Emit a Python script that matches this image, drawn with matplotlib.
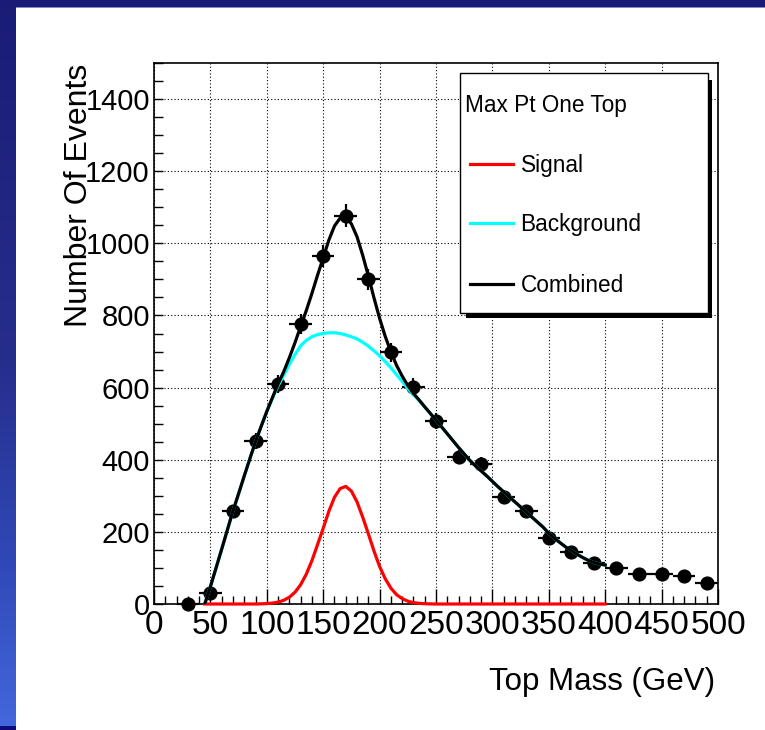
import numpy as np
import matplotlib
matplotlib.use('Agg')
import matplotlib.pyplot as plt
from matplotlib.patches import Rectangle
from matplotlib.ticker import MultipleLocator

plt.rcParams['font.family'] = ['Liberation Sans', 'DejaVu Sans']

# histogram (bin centres, counts, errors)
mass = [30, 50, 70, 90, 110, 130, 150, 170, 190, 210, 230, 250,
        270, 290, 310, 330, 350, 370, 390, 410, 430, 450, 470, 490]
counts = [0, 30, 258, 452, 611, 776, 964, 1077, 900, 698, 602, 507,
          408, 388, 298, 257, 182, 143, 114, 100, 84, 83, 78, 58]
errs = [0, 5.5, 16.1, 21.3, 24.7, 27.9, 31.0, 32.8, 30.0, 26.4, 24.5, 22.5,
        20.2, 19.7, 17.3, 16.0, 13.5, 12.0, 10.7, 10.0, 9.2, 9.1, 8.8, 7.6]
bin_half = 10

# fit curves, every 5 GeV from 45 to 400
fit_mass = list(range(45, 401, 5))
background = [0, 48, 100, 152, 205, 258, 306, 355, 403, 450, 492, 533,
              570, 605, 634, 664, 692, 716, 731, 741, 747, 750, 752, 752,
              750, 746, 741, 735, 726, 715, 702, 688, 672, 655, 636, 617,
              598, 580, 564, 546, 528, 510, 491, 472, 453, 434, 416, 398,
              383, 369, 355, 340, 325, 311, 297, 283, 269, 255, 241, 227,
              213, 196, 182, 170, 158, 148, 138, 129, 121, 115, 111, 108]
signal = [0, 0, 0, 0, 0, 0, 0, 0, 0, 0, 0.5, 1.1,
          2.5, 5.2, 10.2, 18.8, 32.7, 53.5, 82.6, 120.2, 164.8, 210, 257, 296,
          320, 326, 313, 283, 241, 195, 147, 104, 70, 44, 26, 15,
          7.8, 3.9, 1.8, 0.8, 0.3, 0, 0, 0, 0, 0, 0, 0,
          0, 0, 0, 0, 0, 0, 0, 0, 0, 0, 0, 0,
          0, 0, 0, 0, 0, 0, 0, 0, 0, 0, 0, 0]
combined = [b + s for b, s in zip(background, signal)]

legend_title = 'Max Pt One Top'
legend_labels = ['Signal', 'Background', 'Combined']
legend_colors = ['#ff0000', '#00ffff', '#000000']

W, H = 765, 730
fig = plt.figure(figsize=(W / 100, H / 100), dpi=100, facecolor='white')

# blue frame on the left / top
bg = fig.add_axes([0, 0, 1, 1], zorder=-10)
bg.axis('off')
stops_y = [0, 360, 560, 730]
stops_c = np.array([[26, 28, 118], [38, 46, 140], [48, 72, 182], [68, 104, 222]]) / 255
yy = np.arange(H)
grad = np.stack([np.interp(yy, stops_y, stops_c[:, k]) for k in range(3)], axis=-1)
bg.imshow(grad[:, None, :], extent=[0, 16, H, 0], aspect='auto')
bg.add_patch(Rectangle((0, 0), W, 7, color='#1a1b76', lw=0))
bg.add_patch(Rectangle((16, 7), W, 1, color='#8a8ac8', lw=0))
bg.add_patch(Rectangle((0, 726), 16, 4, color='#0b0b7c', lw=0))
bg.set_xlim(0, W)
bg.set_ylim(H, 0)

ax = fig.add_axes([154 / W, (H - 604) / H, 564 / W, 541 / H])
ax.set_xlim(0, 500)
ax.set_ylim(0, 1500)

ax.errorbar(mass, counts, xerr=bin_half, yerr=errs, fmt='o', color='black',
            ms=9.2, elinewidth=1.6, capsize=0, clip_on=False, zorder=3)
ax.plot(fit_mass, signal, color=legend_colors[0], lw=2.3, clip_on=False, zorder=4)
ax.plot(fit_mass, background, color=legend_colors[1], lw=2.3, zorder=4)
ax.plot(fit_mass, combined, color=legend_colors[2], lw=2.3, zorder=5)

ax.xaxis.set_major_locator(MultipleLocator(50))
ax.xaxis.set_minor_locator(MultipleLocator(10))
ax.yaxis.set_major_locator(MultipleLocator(200))
ax.yaxis.set_minor_locator(MultipleLocator(50))
ax.tick_params(axis='x', which='major', direction='in', length=10.8, width=1,
               labelsize=24, pad=4.3, top=False)
ax.tick_params(axis='x', which='minor', direction='in', length=5.8, width=1, top=False)
ax.tick_params(axis='y', which='major', direction='in', length=6.5, width=1,
               labelsize=21, pad=3, right=False)
ax.tick_params(axis='y', which='minor', direction='in', length=6.5, width=1, right=False)
for s in ax.spines.values():
    s.set_linewidth(1.2)
ax.grid(True, which='major', color='black', linestyle=(0, (1, 2)), linewidth=0.8)
ax.set_axisbelow(True)

ax.set_xlabel('Top Mass (GeV)', fontsize=22.5, ha='right', va='baseline')
ax.xaxis.set_label_coords((715 - 154) / 564, (604 - 690) / 541)
ax.set_ylabel('Number Of Events', fontsize=23, ha='right', va='baseline',
              rotation=90, rotation_mode='anchor')
ax.yaxis.set_label_coords((87 - 154) / 564, 0.999)

# legend box with shadow
ov = fig.add_axes([0, 0, 1, 1], zorder=5)
ov.set_xlim(0, W)
ov.set_ylim(H, 0)
ov.axis('off')
ov.patch.set_alpha(0)
ov.add_patch(Rectangle((466, 80), 246.5, 238, color='black', lw=0))
ov.add_patch(Rectangle((460, 73.3), 247.7, 240, facecolor='white',
                       edgecolor='black', lw=1))
ov.text(465, 111.7, legend_title, fontsize=16.3, ha='left', va='baseline')
rows = [164, 223.3, 284]
for yrow, lab, col in zip(rows, legend_labels, legend_colors):
    ov.plot([470, 512.7], [yrow, yrow], color=col, lw=2.3)
    ov.text(520.5, yrow + 7.8, lab, fontsize=16.3, ha='left', va='baseline')

fig.savefig('out.png', dpi=100)
